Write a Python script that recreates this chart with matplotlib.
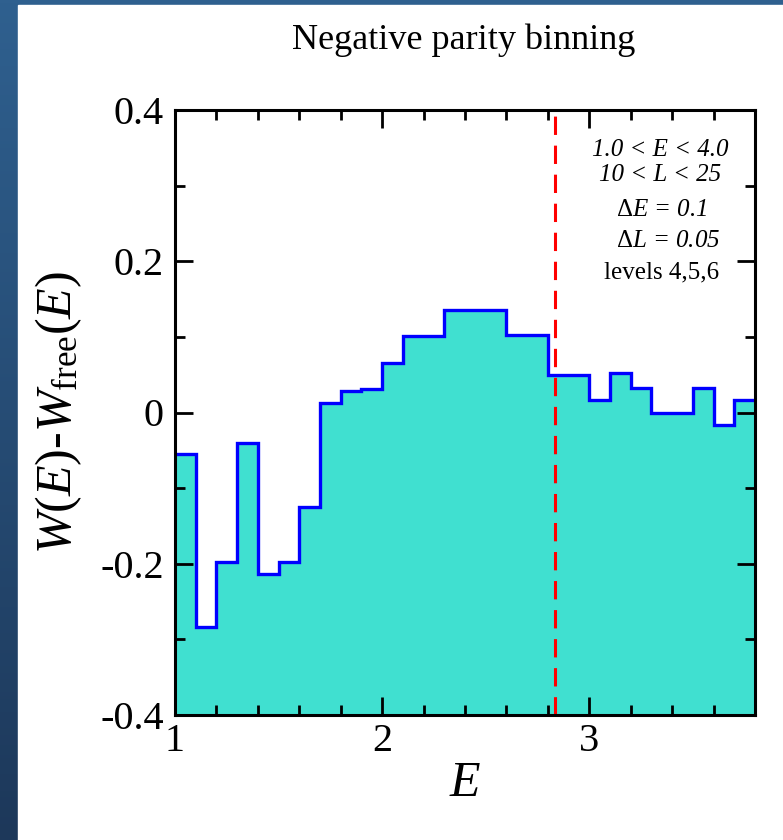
import numpy as np
import matplotlib
matplotlib.use("Agg")
import matplotlib.pyplot as plt
from matplotlib.patches import Rectangle
from matplotlib.ticker import MultipleLocator, FixedLocator, FixedFormatter

# bin edges (dE = 0.1) and W(E) - W_free(E) per bin
edges = [1.0, 1.1, 1.2, 1.3, 1.4, 1.5, 1.6, 1.7, 1.8, 1.9, 2.0, 2.1, 2.2, 2.3, 2.4,
         2.5, 2.6, 2.7, 2.8, 2.9, 3.0, 3.1, 3.2, 3.3, 3.4, 3.5, 3.6, 3.7, 3.8]
dW = [-0.055, -0.283, -0.198, -0.040, -0.214, -0.198, -0.125, 0.013, 0.029, 0.031,
      0.066, 0.101, 0.101, 0.136, 0.136, 0.136, 0.103, 0.103, 0.050, 0.050,
      0.017, 0.052, 0.033, 0.000, 0.000, 0.033, -0.017, 0.017]
E_cut = 2.835

x_ticks = [1, 2, 3]
x_labels = ["1", "2", "3"]
y_ticks = [-0.4, -0.2, 0.0, 0.2, 0.4]
y_labels = ["-0.4", "-0.2", "0", "0.2", "0.4"]

notes = ["1.0 < E < 4.0", "10 < L < 25", r"$\Delta$E = 0.1", r"$\Delta$L = 0.05", "levels 4,5,6"]
note_style = ["italic", "italic", "italic", "italic", "normal"]

plt.rcParams["font.family"] = ["Liberation Serif", "DejaVu Serif"]
plt.rcParams["mathtext.fontset"] = "custom"
plt.rcParams["mathtext.rm"] = "Liberation Serif"
plt.rcParams["mathtext.it"] = "Liberation Serif:italic"

fig = plt.figure(figsize=(7.83, 8.40), dpi=100)

# slide background: blue gradient strip left/top, white panel
bg = fig.add_axes([0, 0, 1, 1], zorder=-5)
grad = np.linspace(0, 1, 256).reshape(-1, 1)
top_c = np.array([0x2f, 0x60, 0x8f]) / 255
bot_c = np.array([0x1d, 0x38, 0x5a]) / 255
img = top_c[None, None, :] * (1 - grad[:, :, None]) + bot_c[None, None, :] * grad[:, :, None]
bg.imshow(img, aspect="auto", extent=[0, 1, 0, 1])
bg.add_patch(Rectangle((17.5 / 783, 0), 1, 1 - 4.5 / 840, color="white"))
bg.set_xlim(0, 1)
bg.set_ylim(0, 1)
bg.axis("off")

ax = fig.add_axes([175 / 783, 125 / 840, 580 / 783, 605 / 840])
ax.set_facecolor("none")

ax.stairs(dW, edges, baseline=-0.4, fill=True, color="#40e0d0", zorder=1)
ax.stairs(dW, edges, baseline=None, color="blue", lw=2.4, zorder=2)
ax.axvline(E_cut, color="red", lw=2.2, ls=(0, (6, 3.5)), zorder=3)

ax.set_xlim(1, 3.8)
ax.set_ylim(-0.4, 0.4)

ax.xaxis.set_major_locator(FixedLocator(x_ticks))
ax.xaxis.set_major_formatter(FixedFormatter(x_labels))
ax.xaxis.set_minor_locator(MultipleLocator(0.2))
ax.yaxis.set_major_locator(FixedLocator(y_ticks))
ax.yaxis.set_major_formatter(FixedFormatter(y_labels))
ax.yaxis.set_minor_locator(MultipleLocator(0.1))

ax.tick_params(which="both", direction="in", top=True, right=True, width=2, colors="black")
ax.tick_params(which="major", length=13, labelsize=29)
ax.tick_params(which="minor", length=7)
ax.tick_params(axis="x", which="major", pad=6)
ax.tick_params(axis="y", which="major", pad=8)
for s in ax.spines.values():
    s.set_linewidth(2.2)
    s.set_zorder(4)

ax.set_xlabel(r"$E$", fontsize=36, labelpad=0)
ax.set_ylabel(r"$W(E)$-$W_{\rm free}(E)$", fontsize=36, labelpad=12)

fig.text(464 / 783, 1 - 40 / 840, "Negative parity binning", fontsize=26,
         ha="center", va="center")

note_y = [150, 175, 210, 241, 272]
note_x = [660, 660, 662, 668, 662]
for t, st, nx_, ny_ in zip(notes, note_style, note_x, note_y):
    fig.text(nx_ / 783, 1 - ny_ / 840, t, fontsize=18, style=st, ha="center", va="center")

fig.savefig("out.png", dpi=100)
